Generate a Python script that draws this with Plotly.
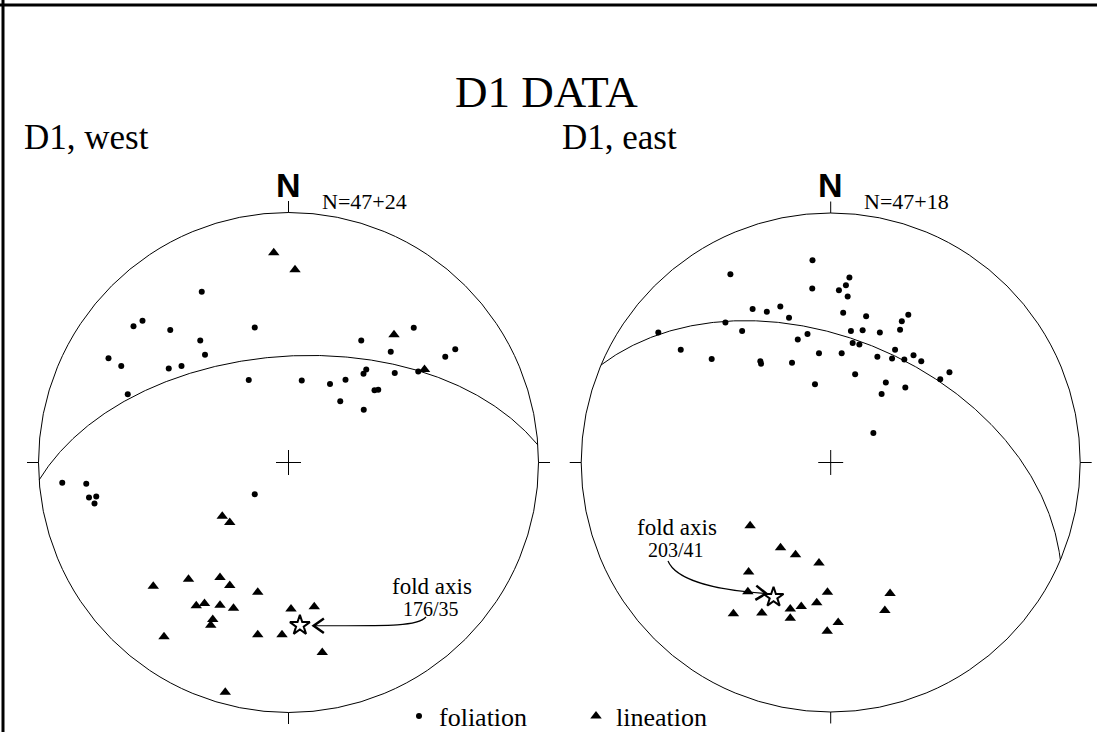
import numpy as np
import plotly.graph_objects as go

# ---------------- data (equal-area net coordinates, unit circle: x=East, y=North) ----------------
panel_titles = ["D1, west", "D1, east"]
panel_counts = ["N=47+24", "N=47+18"]
fold_trend = [176, 203]
fold_plunge = [35, 41]

west_fol_x = [-0.347, -0.620, -0.584, -0.473, -0.135, -0.353, -0.334, -0.720, -0.669, -0.479,
              -0.428, -0.159, -0.643, 0.053, 0.166, 0.228, 0.291, 0.409, 0.501, 0.627,
              0.667, 0.300, 0.311, 0.425, 0.519, 0.344, 0.359, 0.207, 0.301, -0.905,
              -0.809, -0.798, -0.769, -0.776, -0.135]
west_fol_y = [0.683, 0.545, 0.567, 0.530, 0.540, 0.488, 0.431, 0.417, 0.386, 0.376,
              0.386, 0.330, 0.273, 0.328, 0.314, 0.331, 0.488, 0.443, 0.539, 0.423,
              0.453, 0.355, 0.372, 0.358, 0.364, 0.289, 0.291, 0.245, 0.211, -0.081,
              -0.085, -0.140, -0.136, -0.164, -0.127]

west_lin_x = [-0.059, 0.026, 0.422, 0.544, -0.265, -0.235, -0.541, -0.400, -0.274, -0.235,
              -0.123, -0.369, -0.336, -0.274, -0.220, -0.303, -0.311, 0.010, 0.103, -0.498,
              -0.123, -0.026, 0.135, -0.253]
west_lin_y = [0.839, 0.771, 0.511, 0.372, -0.215, -0.240, -0.495, -0.467, -0.460, -0.492,
              -0.519, -0.573, -0.564, -0.571, -0.583, -0.628, -0.651, -0.586, -0.577, -0.697,
              -0.689, -0.689, -0.760, -0.919]

east_fol_x = [-0.073, -0.402, -0.074, 0.075, 0.061, 0.033, 0.068, -0.313, -0.256, -0.202,
              -0.167, 0.050, 0.142, 0.311, 0.285, 0.278, 0.197, 0.128, 0.081, -0.422,
              -0.691, -0.355, -0.093, -0.132, 0.088, 0.115, 0.258, 0.246, 0.295, 0.332,
              0.363, 0.187, 0.044, -0.047, -0.601, -0.477, -0.282, -0.279, -0.155, 0.098,
              0.439, 0.476, 0.221, 0.299, 0.204, -0.063, 0.171]
east_fol_y = [0.811, 0.755, 0.697, 0.741, 0.710, 0.690, 0.665, 0.615, 0.604, 0.625,
              0.580, 0.600, 0.586, 0.592, 0.566, 0.532, 0.521, 0.530, 0.527, 0.561,
              0.521, 0.527, 0.515, 0.493, 0.479, 0.473, 0.452, 0.417, 0.413, 0.430,
              0.406, 0.424, 0.438, 0.438, 0.452, 0.415, 0.406, 0.396, 0.400, 0.354,
              0.334, 0.362, 0.321, 0.301, 0.275, 0.314, 0.118]

east_lin_x = [-0.323, -0.201, -0.141, -0.047, -0.329, -0.332, -0.013, 0.238, -0.056, -0.118,
              -0.162, -0.390, -0.276, -0.162, 0.217, 0.030, -0.014]
east_lin_y = [-0.254, -0.342, -0.370, -0.403, -0.439, -0.518, -0.520, -0.525, -0.562, -0.577,
              -0.587, -0.606, -0.603, -0.624, -0.593, -0.641, -0.676]

fol_x = [west_fol_x, east_fol_x]
fol_y = [west_fol_y, east_fol_y]
lin_x = [west_lin_x, east_lin_x]
lin_y = [west_lin_y, east_lin_y]

# ---------------- layout constants (pixels) ----------------
W, H = 1097, 732
centers = [(288.5, 462.5), (830.7, 462.5)]
radii = [250.0, 249.5]
xranges = [(-1.1, 1.08), (-1.08, 1.06)]
yrange = (-1.06, 1.22)
SERIF = "Liberation Serif, Times New Roman, serif"
SANS = "Liberation Sans, Arial, sans-serif"


def equal_area(e, n, d):
    s = np.sqrt(1.0 + d)
    return e / s, n / s


def line_vec(trend, plunge):
    t, p = np.radians(trend), np.radians(plunge)
    return np.array([np.cos(p) * np.sin(t), np.cos(p) * np.cos(t), np.sin(p)])


def girdle(trend, plunge, n=400):
    a = line_vec(trend, plunge)
    t = np.radians(trend)
    s = np.array([np.cos(t), -np.sin(t), 0.0])
    d = np.cross(a, s)
    if d[2] < 0:
        d = -d
    th = np.linspace(0, np.pi, n)
    v = np.outer(np.cos(th), s) + np.outer(np.sin(th), d)
    return equal_area(v[:, 0], v[:, 1], v[:, 2])


fig = go.Figure()
shapes = []
annotations = []

for i in range(2):
    xa = "x" if i == 0 else "x2"
    ya = "y" if i == 0 else "y2"
    cx, cy = centers[i]
    R = radii[i]
    xr = xranges[i]

    def py(v):  # page-pixel y -> net units
        return (cy - v) / R

    def px(v):  # page-pixel x -> net units
        return (v - cx) / R

    # axis domains so that 1 net unit = R pixels
    x0 = (cx + xr[0] * R) / W
    x1 = (cx + xr[1] * R) / W
    y0 = (H - (cy - yrange[0] * R)) / H
    y1 = (H - (cy - yrange[1] * R)) / H
    axx = dict(range=list(xr), domain=[x0, x1], visible=False, fixedrange=True)
    axy = dict(range=list(yrange), domain=[y0, y1], visible=False, fixedrange=True)
    if i == 0:
        fig.update_layout(xaxis=dict(axx, anchor="y"), yaxis=dict(axy, anchor="x"))
    else:
        fig.update_layout(xaxis2=dict(axx, anchor="y2"), yaxis2=dict(axy, anchor="x2"))

    line = dict(color="black", width=1)
    # primitive circle
    shapes.append(dict(type="circle", xref=xa, yref=ya, x0=-1, y0=-1, x1=1, y1=1, line=line))
    # N/S/E/W ticks and centre cross
    tk = 0.046
    shapes += [
        dict(type="line", xref=xa, yref=ya, x0=0, y0=1, x1=0, y1=1 + tk, line=line),
        dict(type="line", xref=xa, yref=ya, x0=0, y0=-1, x1=0, y1=-1 - tk, line=line),
        dict(type="line", xref=xa, yref=ya, x0=-1, y0=0, x1=-1 - tk, y1=0, line=line),
        dict(type="line", xref=xa, yref=ya, x0=1, y0=0, x1=1 + tk, y1=0, line=line),
        dict(type="line", xref=xa, yref=ya, x0=-0.05, y0=0, x1=0.05, y1=0, line=line),
        dict(type="line", xref=xa, yref=ya, x0=0, y0=-0.05, x1=0, y1=0.05, line=line),
    ]

    # girdle (great circle normal to fold axis)
    gx, gy = girdle(fold_trend[i], fold_plunge[i])
    fig.add_trace(go.Scatter(x=gx, y=gy, mode="lines", line=dict(color="black", width=1),
                             xaxis=xa, yaxis=ya, showlegend=False, hoverinfo="skip"))

    fig.add_trace(go.Scatter(x=fol_x[i], y=fol_y[i], mode="markers", name="foliation",
                             legendgroup="fol", showlegend=(i == 0),
                             marker=dict(symbol="circle", size=6, color="black"),
                             xaxis=xa, yaxis=ya))
    fig.add_trace(go.Scatter(x=lin_x[i], y=lin_y[i], mode="markers", name="lineation",
                             legendgroup="lin", showlegend=(i == 0),
                             marker=dict(symbol="triangle-up", size=10, color="black"),
                             xaxis=xa, yaxis=ya))

    # fold axis star
    fv = line_vec(fold_trend[i], fold_plunge[i])
    sx, sy = equal_area(*fv)
    fig.add_trace(go.Scatter(x=[sx], y=[sy], mode="markers", showlegend=False,
                             marker=dict(symbol="star", size=15, color="white",
                                         line=dict(color="black", width=2)),
                             xaxis=xa, yaxis=ya))

    # labels
    annotations.append(dict(text="<b>N</b>", xref=xa, yref=ya, x=0, y=py(184.5), showarrow=False,
                            xanchor="center", yanchor="middle",
                            font=dict(family=SANS, size=34, color="black")))
    annotations.append(dict(text=panel_counts[i], xref=xa, yref=ya, x=px(cx + 31.5), y=py(201),
                            showarrow=False, xanchor="left", yanchor="middle",
                            font=dict(family=SERIF, size=22, color="black")))
    annotations.append(dict(text=panel_titles[i], xref="paper", yref="paper",
                            x=(22 if i == 0 else 560) / W, y=1 - 137 / H, showarrow=False,
                            xanchor="left", yanchor="middle",
                            font=dict(family=SERIF, size=35, color="black")))

    fa_label = "fold axis"
    fa_value = f"{fold_trend[i]}/{fold_plunge[i]}"
    if i == 0:
        lx, ly1, ly2 = px(432), py(586), py(609)
        start = (px(426), py(617))
        c1, c2 = (px(418), py(626)), (px(395), py(626))
        tip = (sx + 0.055, sy - 0.0015)
    else:
        lx, ly1, ly2 = px(677), py(527), py(550)
        start = (px(668), py(561))
        c1, c2 = (px(676), py(580)), (px(715), py(590))
        tip = (sx - 0.03, sy + 0.015)
    annotations.append(dict(text=fa_label, xref=xa, yref=ya, x=lx, y=ly1, showarrow=False,
                            xanchor="center", yanchor="middle",
                            font=dict(family=SERIF, size=23, color="black")))
    annotations.append(dict(text=fa_value, xref=xa, yref=ya, x=lx - 0.005, y=ly2, showarrow=False,
                            xanchor="center", yanchor="middle",
                            font=dict(family=SERIF, size=20, color="black")))
    path = f"M {start[0]},{start[1]} C {c1[0]},{c1[1]} {c2[0]},{c2[1]} {tip[0]},{tip[1]}"
    shapes.append(dict(type="path", xref=xa, yref=ya, path=path,
                       line=dict(color="black", width=1.2)))
    # arrow head
    dvec = np.array([tip[0] - c2[0], tip[1] - c2[1]])
    dvec = dvec / np.hypot(*dvec)
    hl = 0.05
    arms = []
    for ang in (np.radians(35), -np.radians(35)):
        rot = np.array([[np.cos(ang), -np.sin(ang)], [np.sin(ang), np.cos(ang)]]) @ (-dvec)
        arms.append((tip[0] + hl * rot[0], tip[1] + hl * rot[1]))
    hpath = f"M {arms[0][0]},{arms[0][1]} L {tip[0]},{tip[1]} L {arms[1][0]},{arms[1][1]}"
    shapes.append(dict(type="path", xref=xa, yref=ya, path=hpath,
                       line=dict(color="black", width=2.5)))

# title
annotations.append(dict(text="D1 DATA", xref="paper", yref="paper", x=546 / W, y=1 - 92 / H,
                        showarrow=False, xanchor="center", yanchor="middle",
                        font=dict(family=SERIF, size=45, color="black")))

# page frame (top and left rules)
shapes.append(dict(type="line", xref="paper", yref="paper", x0=0, x1=1, y0=1 - 5 / H, y1=1 - 5 / H,
                   line=dict(color="black", width=3)))
shapes.append(dict(type="line", xref="paper", yref="paper", x0=3 / W, x1=3 / W, y0=0, y1=1,
                   line=dict(color="black", width=3)))

fig.update_layout(
    width=W, height=H, autosize=False,
    # no automatic margin growth: the legend sits at the very bottom edge
    margin=dict(l=0, r=0, t=0, b=0, autoexpand=False),
    paper_bgcolor="white", plot_bgcolor="rgba(0,0,0,0)",
    shapes=shapes, annotations=annotations,
    showlegend=True,
    legend=dict(orientation="h", x=399 / W, xanchor="left", y=(H - 716) / H, yanchor="middle",
                font=dict(family=SERIF, size=26, color="black"), bgcolor="rgba(0,0,0,0)",
                itemwidth=30, entrywidth=132, entrywidthmode="pixels", itemsizing="trace"),
    hovermode=False,
)

post = (
    "document.body.style.margin='0';"
    "document.documentElement.style.overflow='hidden';"
)

fig.write_html("out.html",
               config={"responsive": False, "displayModeBar": False},
               post_script=post)
